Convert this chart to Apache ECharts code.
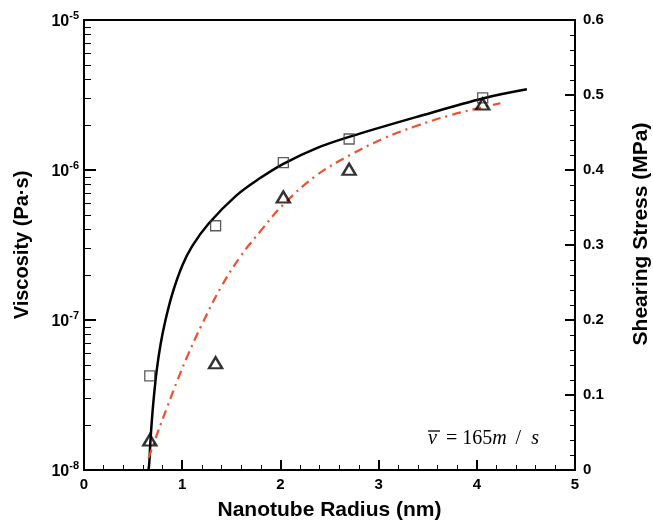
<!DOCTYPE html>
<html>
<head>
<meta charset="utf-8">
<script src="https://cdn.jsdelivr.net/npm/echarts@6/dist/echarts.min.js"></script>
<style>html,body{margin:0;padding:0;background:#fff;}#c{width:653px;height:525px;}</style>
</head>
<body>
<div id="c"></div>
<script>
// ---- data ----
const radius = [0.67, 1.34, 2.03, 2.70, 4.06];
const viscosity = [4.24e-8, 4.25e-7, 1.12e-6, 1.61e-6, 3.03e-6];
const stress = [0.040, 0.143, 0.364, 0.401, 0.488];

const fitViscRadius = [0.657, 0.665, 0.675, 0.69, 0.71, 0.74, 0.78, 0.83, 0.90, 1.00, 1.10, 1.27, 1.55, 1.79, 2.03, 2.37, 2.71, 3.39, 4.07, 4.51];
const fitViscosity = [1.0e-8, 1.12e-8, 1.5e-8, 2.1e-8, 3.0e-8, 4.6e-8, 6.9e-8, 1.0e-7, 1.5e-7, 2.3e-7, 3.1e-7, 4.4e-7, 6.75e-7, 8.8e-7, 1.10e-6, 1.40e-6, 1.67e-6, 2.26e-6, 3.01e-6, 3.45e-6];

const fitStressRadius = [0.657, 0.75, 0.85, 0.95, 1.05, 1.20, 1.40, 1.60, 1.80, 2.03, 2.37, 2.71, 3.05, 3.39, 3.73, 4.07, 4.24];
const fitStress = [0.016, 0.050, 0.085, 0.119, 0.151, 0.194, 0.245, 0.286, 0.319, 0.354, 0.393, 0.420, 0.442, 0.459, 0.473, 0.484, 0.489];

const xTicks = [0, 1, 2, 3, 4, 5];
const leftDecades = [-8, -7, -6, -5];
const rightTicks = [0, 0.1, 0.2, 0.3, 0.4, 0.5, 0.6];
const leftMinor = [];
leftDecades.slice(0, 3).forEach(e => { for (let k = 2; k <= 9; k++) leftMinor.push(k * Math.pow(10, e)); });

const zip = (a, b) => a.map((v, i) => [v, b[i]]);
const sans = 'Liberation Sans';
const serif = 'Liberation Serif';

const chart = echarts.init(document.getElementById('c'), null, {renderer: 'canvas'});
chart.setOption({
  backgroundColor: '#fff',
  animation: false,
  grid: {left: 84, right: 78, top: 20, bottom: 55, outerBoundsMode: 'none', containLabel: false,
         show: true, borderColor: '#000', borderWidth: 2, backgroundColor: 'transparent'},
  xAxis: {
    type: 'value', min: xTicks[0], max: xTicks[xTicks.length - 1], interval: 1,
    name: 'Nanotube Radius (nm)', nameLocation: 'middle', nameGap: 30,
    nameTextStyle: {fontFamily: sans, fontWeight: 'bold', fontSize: 21, color: '#000'},
    axisLine: {lineStyle: {color: '#000', width: 2}},
    axisTick: {inside: true, length: 10, lineStyle: {color: '#000', width: 2}},
    minorTick: {show: true, splitNumber: 5, length: 5, lineStyle: {color: '#000', width: 1}},
    axisLabel: {fontFamily: sans, fontWeight: 'bold', fontSize: 15, color: '#000', margin: 7},
    splitLine: {show: false}
  },
  yAxis: [
    {
      type: 'log', logBase: 10, min: 1e-8, max: 1e-5, position: 'left',
      name: 'Viscosity (Pa·s)', nameLocation: 'middle', nameRotate: 90, nameGap: 52,
      nameTextStyle: {fontFamily: sans, fontWeight: 'bold', fontSize: 20, color: '#000'},
      axisLine: {show: true, lineStyle: {color: '#000', width: 2}},
      axisTick: {inside: true, length: 12, lineStyle: {color: '#000', width: 2}},
      axisLabel: {
        margin: 5,
        formatter: v => '{a|10}{b|' + Math.round(Math.log10(v)) + '}',
        rich: {
          a: {fontFamily: sans, fontWeight: 'bold', fontSize: 16, color: '#000', lineHeight: 20, verticalAlign: 'bottom'},
          b: {fontFamily: sans, fontWeight: 'bold', fontSize: 11, color: '#000', lineHeight: 20, verticalAlign: 'top'}
        }
      },
      splitLine: {show: false}
    },
    {
      type: 'value', min: rightTicks[0], max: rightTicks[rightTicks.length - 1], interval: 0.1, position: 'right',
      name: 'Shearing Stress (MPa)', nameLocation: 'middle', nameRotate: 90, nameGap: 56,
      nameTextStyle: {fontFamily: sans, fontWeight: 'bold', fontSize: 21, color: '#000', padding: [0, 0, 0, 22]},
      axisLine: {show: true, lineStyle: {color: '#000', width: 2}},
      axisTick: {inside: true, length: 10, lineStyle: {color: '#000', width: 2}},
      minorTick: {show: true, splitNumber: 5, length: 5, lineStyle: {color: '#000', width: 1}},
      axisLabel: {fontFamily: sans, fontWeight: 'bold', fontSize: 15, color: '#000', margin: 8},
      splitLine: {show: false}
    },
    {
      type: 'log', logBase: 10, min: 1e-8, max: 1e-5, position: 'left',
      axisLine: {show: false},
      axisTick: {show: true, inside: true, length: 7, customValues: leftMinor, lineStyle: {color: '#000', width: 1}},
      axisLabel: {show: false},
      splitLine: {show: false}
    }
  ],
  series: [
    {
      name: 'viscosity fit', type: 'line', xAxisIndex: 0, yAxisIndex: 0,
      data: zip(fitViscRadius, fitViscosity), showSymbol: false, smooth: 0.35,
      lineStyle: {color: '#000', width: 2.5}, z: 2
    },
    {
      name: 'stress fit', type: 'line', xAxisIndex: 0, yAxisIndex: 1,
      data: zip(fitStressRadius, fitStress), showSymbol: false, smooth: 0.4,
      lineStyle: {color: '#f0502e', width: 2.2, type: [9, 5, 2, 5]}, z: 2
    },
    {
      name: 'viscosity', type: 'scatter', xAxisIndex: 0, yAxisIndex: 0,
      data: zip(radius, viscosity), symbol: 'rect', symbolSize: 10,
      itemStyle: {color: 'rgba(255,255,255,0)', borderColor: '#333', borderWidth: 1.3}, z: 3
    },
    {
      name: 'stress', type: 'scatter', xAxisIndex: 0, yAxisIndex: 1,
      data: zip(radius, stress), symbol: 'triangle', symbolSize: [13, 11],
      itemStyle: {color: 'rgba(255,255,255,0)', borderColor: '#000', borderWidth: 2.4}, z: 4
    }
  ],
  graphic: [
    {
      type: 'text', left: 428, top: 429, z: 10,
      style: {
        text: '{i|v}{e|=}{n|165}{i|m}{s|/}{t|s}',
        rich: {
          i: {fontFamily: serif, fontStyle: 'italic', fontSize: 20, fill: '#000'},
          e: {fontFamily: serif, fontSize: 20, fill: '#000', padding: [0, 0, 0, 9]},
          n: {fontFamily: serif, fontSize: 20, fill: '#000', padding: [0, 0, 0, 5]},
          s: {fontFamily: serif, fontSize: 20, fill: '#000', padding: [0, 0, 0, 9]},
          t: {fontFamily: serif, fontStyle: 'italic', fontSize: 20, fill: '#000', padding: [0, 0, 0, 10]}
        }
      }
    },
    {
      type: 'line', z: 10,
      shape: {x1: 428, y1: 431, x2: 440, y2: 431},
      style: {stroke: '#000', lineWidth: 1.3}
    }
  ]
});
</script>
</body>
</html>
